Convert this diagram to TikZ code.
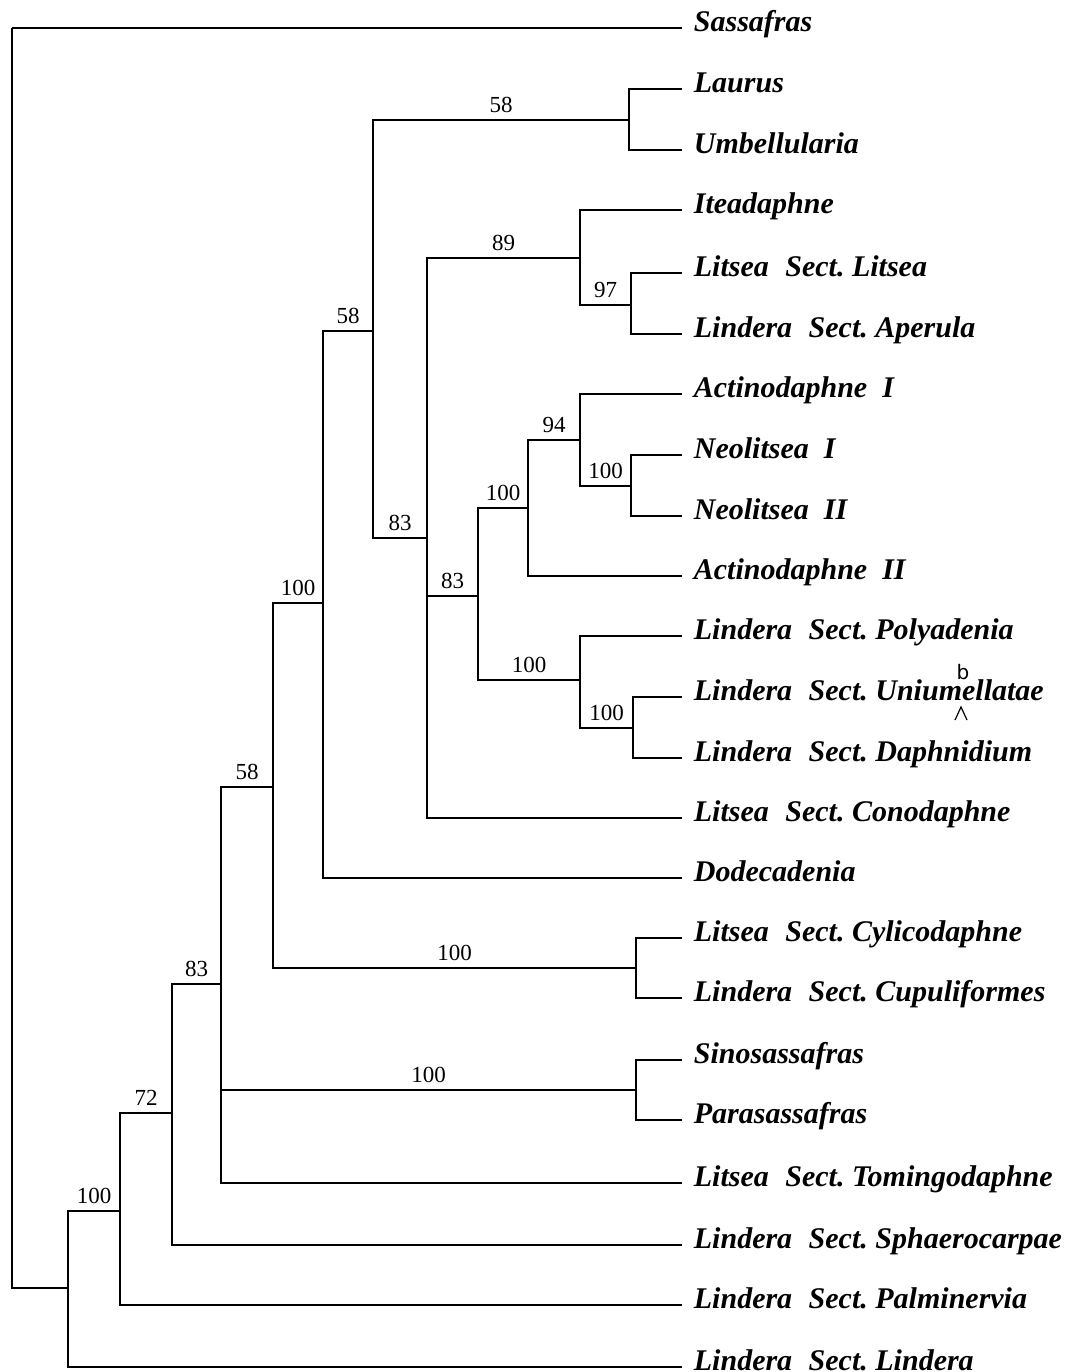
\documentclass[tikz,border=0pt]{standalone}
\usepackage{fontspec}
\setmainfont{Liberation Serif}
\setsansfont{DejaVu Sans}
\tikzset{
  leaf/.style={anchor=west, inner xsep=5.5pt, inner ysep=0pt, text height=6pt, text depth=3pt,
    font=\fontsize{15}{15}\selectfont\bfseries\itshape},
  boot/.style={above, pos=0.75, font=\fontsize{11.5}{11.5}\selectfont},
}
\newcommand{\sectgap}{\hspace{0.55em}Sect.\ }
\begin{document}
\begin{tikzpicture}[x=0.5pt,y=-0.5pt,line width=0.9pt]
    \useasboundingbox (0,0) rectangle (1067,1372);
    % terminal taxa
    \node[leaf] (sass) at (682,28) {Sassafras};
    \node[leaf] (laur) at (682,89) {Laurus};
    \node[leaf] (umbe) at (682,150) {Umbellularia};
    \node[leaf] (itea) at (682,210) {Iteadaphne};
    \node[leaf] (lits) at (682,273) {Litsea\sectgap Litsea};
    \node[leaf] (aper) at (682,334) {Lindera\sectgap Aperula};
    \node[leaf] (act1) at (682,394) {Actinodaphne\ \ I};
    \node[leaf] (neo1) at (682,455) {Neolitsea\ \ I};
    \node[leaf] (neo2) at (682,516) {Neolitsea\ \ II};
    \node[leaf] (act2) at (682,576) {Actinodaphne\ \ II};
    \node[leaf] (poly) at (682,636) {Lindera\sectgap Polyadenia};
    \node[leaf] (unim) at (682,697) {Lindera\sectgap Uniumellatae};
    \node[leaf] (daph) at (682,758) {Lindera\sectgap Daphnidium};
    \node[leaf] (cono) at (682,818) {Litsea\sectgap Conodaphne};
    \node[leaf] (dode) at (682,878) {Dodecadenia};
    \node[leaf] (cyli) at (682,938) {Litsea\sectgap Cylicodaphne};
    \node[leaf] (cupu) at (682,998) {Lindera\sectgap Cupuliformes};
    \node[leaf] (sino) at (682,1060) {Sinosassafras};
    \node[leaf] (para) at (682,1120) {Parasassafras};
    \node[leaf] (tomi) at (682,1183) {Litsea\sectgap Tomingodaphne};
    \node[leaf] (spha) at (682,1245) {Lindera\sectgap Sphaerocarpae};
    \node[leaf] (palm) at (682,1305) {Lindera\sectgap Palminervia};
    \node[leaf] (lind) at (682,1367) {Lindera\sectgap Lindera};
    % handwritten correction
    \node[font=\sffamily\fontsize{10}{10}\selectfont, inner sep=0pt] (ins) at (963,672) {b};
    \draw[line width=0.6pt] (955,720) -- (961,707) -- (967,720);
    % internal nodes
    \coordinate (root) at (12,28);
    \coordinate (nA) at (68,1288);
    \coordinate (nB) at (120,1211);
    \coordinate (nC) at (172,1113);
    \coordinate (nD) at (221,984);
    \coordinate (nSino) at (636,1090);
    \coordinate (nE) at (273,787);
    \coordinate (nCyli) at (636,968);
    \coordinate (nF) at (323,603);
    \coordinate (nG) at (373,331);
    \coordinate (nLaur) at (629,120);
    \coordinate (nH) at (427,538);
    \coordinate (nI) at (580,258);
    \coordinate (nK) at (631,305);
    \coordinate (nJ) at (478,596);
    \coordinate (nL) at (528,508);
    \coordinate (nN) at (580,440);
    \coordinate (nO) at (631,486);
    \coordinate (nM) at (580,680);
    \coordinate (nP) at (633,728);
    % branches
    \draw (root) |- (sass);
    \draw (root) |- (nA);
    \draw (nA) |- (nB) node[boot] {100};
    \draw (nA) |- (lind);
    \draw (nB) |- (nC) node[boot] {72};
    \draw (nB) |- (palm);
    \draw (nC) |- (nD) node[boot] {83};
    \draw (nC) |- (spha);
    \draw (nD) |- (nE) node[boot] {58};
    \draw (nD) |- (nSino) node[boot] {100};
    \draw (nD) |- (tomi);
    \draw (nSino) |- (sino);
    \draw (nSino) |- (para);
    \draw (nE) |- (nF) node[boot] {100};
    \draw (nE) |- (nCyli) node[boot] {100};
    \draw (nCyli) |- (cyli);
    \draw (nCyli) |- (cupu);
    \draw (nF) |- (nG) node[boot] {58};
    \draw (nF) |- (dode);
    \draw (nG) |- (nLaur) node[boot] {58};
    \draw (nG) |- (nH) node[boot] {83};
    \draw (nLaur) |- (laur);
    \draw (nLaur) |- (umbe);
    \draw (nH) |- (nI) node[boot] {89};
    \draw (nH) |- (nJ) node[boot] {83};
    \draw (nH) |- (cono);
    \draw (nI) |- (itea);
    \draw (nI) |- (nK) node[boot] {97};
    \draw (nK) |- (lits);
    \draw (nK) |- (aper);
    \draw (nJ) |- (nL) node[boot] {100};
    \draw (nJ) |- (nM) node[boot] {100};
    \draw (nL) |- (nN) node[boot] {94};
    \draw (nL) |- (act2);
    \draw (nN) |- (act1);
    \draw (nN) |- (nO) node[boot] {100};
    \draw (nO) |- (neo1);
    \draw (nO) |- (neo2);
    \draw (nM) |- (poly);
    \draw (nM) |- (nP) node[boot] {100};
    \draw (nP) |- (unim);
    \draw (nP) |- (daph);
\end{tikzpicture}
\end{document}
